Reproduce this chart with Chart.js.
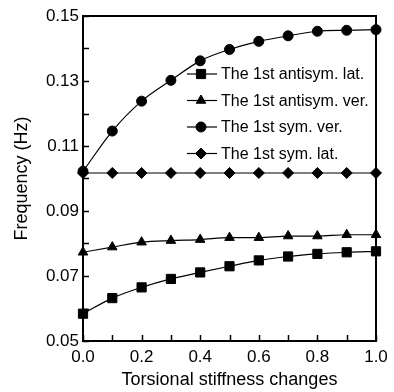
<!DOCTYPE html>
<html>
<head>
<meta charset="utf-8">
<style>
  html, body { margin: 0; padding: 0; background: #ffffff; }
  #wrap { width: 394px; height: 392px; }
</style>
<script src="https://cdn.jsdelivr.net/npm/chart.js@4/dist/chart.umd.min.js"></script>
</head>
<body>
<div id="wrap"><canvas id="c" width="394" height="392"></canvas></div>
<script>
// ---- data ----
const stiffness = [0.0, 0.1, 0.2, 0.3, 0.4, 0.5, 0.6, 0.7, 0.8, 0.9, 1.0];
const antisymLat = [0.0584, 0.0632, 0.0665, 0.0691, 0.0711, 0.0730, 0.0748, 0.0760, 0.0768, 0.0773, 0.0776];
const antisymVer = [0.0773, 0.0789, 0.0804, 0.0809, 0.0812, 0.0818, 0.0818, 0.0823, 0.0823, 0.0827, 0.0827];
const symVer = [0.1022, 0.1146, 0.1238, 0.1302, 0.1362, 0.1397, 0.1422, 0.1439, 0.1453, 0.1456, 0.1458];
const symLat = [0.1017, 0.1017, 0.1017, 0.1017, 0.1017, 0.1017, 0.1017, 0.1017, 0.1017, 0.1017, 0.1017];
const seriesNames = ['The 1st antisym. lat.', 'The 1st antisym. ver.', 'The 1st sym. ver.', 'The 1st sym. lat.'];
const xTickLabels = [0.0, 0.2, 0.4, 0.6, 0.8, 1.0];
const yTickLabels = [0.05, 0.07, 0.09, 0.11, 0.13, 0.15];
const xMinorTicks = [0.0, 0.1, 0.2, 0.3, 0.4, 0.5, 0.6, 0.7, 0.8, 0.9, 1.0];
const yMinorTicks = [0.05, 0.06, 0.07, 0.08, 0.09, 0.10, 0.11, 0.12, 0.13, 0.14, 0.15];
const xTitle = 'Torsional stiffness changes';
const yTitle = 'Frequency (Hz)';

const FONT = "'Liberation Sans', Arial, Helvetica, sans-serif";

function pts(arr) { return stiffness.map((x, i) => ({ x: x, y: arr[i] })); }

const styles = [
  { pointStyle: 'rect', pointRadius: 6.5 },
  { pointStyle: 'triangle', pointRadius: 5.5 },
  { pointStyle: 'circle', pointRadius: 5 },
  { pointStyle: 'rectRot', pointRadius: 5.5 }
];
const seriesData = [antisymLat, antisymVer, symVer, symLat];

const datasets = seriesData.map((arr, i) => ({
  label: seriesNames[i],
  data: pts(arr),
  borderColor: '#000',
  backgroundColor: '#000',
  pointBackgroundColor: '#000',
  pointBorderColor: '#000',
  pointBorderWidth: 1,
  borderWidth: 1.2,
  pointStyle: styles[i].pointStyle,
  pointRadius: styles[i].pointRadius,
  cubicInterpolationMode: 'monotone',
  clip: false
}));

const framePlugin = {
  id: 'frame',
  afterDatasetsDraw(chart) {
    const ctx = chart.ctx;
    const a = chart.chartArea;
    const xs = chart.scales.x, ys = chart.scales.y;
    ctx.save();
    ctx.strokeStyle = '#000';
    ctx.lineWidth = 2;
    ctx.strokeRect(a.left, a.top, a.right - a.left, a.bottom - a.top);
    ctx.lineWidth = 1.5;
    ctx.beginPath();
    xMinorTicks.forEach(v => {
      const px = Math.round(xs.getPixelForValue(v)) + 0.5;
      ctx.moveTo(px, a.bottom);
      ctx.lineTo(px, a.bottom - 6);
    });
    yMinorTicks.forEach(v => {
      const py = Math.round(ys.getPixelForValue(v)) + 0.5;
      ctx.moveTo(a.left, py);
      ctx.lineTo(a.left + 6, py);
    });
    ctx.stroke();

    // legend
    const lx0 = 187, lx1 = 217, lxm = 201, tx = 221;
    const rowY = [74, 100.5, 127, 153.5];
    ctx.font = '16px ' + FONT;
    ctx.textBaseline = 'middle';
    ctx.textAlign = 'left';
    chart.data.datasets.forEach((ds, i) => {
      const y = rowY[i];
      ctx.strokeStyle = '#000';
      ctx.lineWidth = 1.2;
      ctx.beginPath();
      ctx.moveTo(lx0, y);
      ctx.lineTo(lx1, y);
      ctx.stroke();
      ctx.fillStyle = '#000';
      ctx.lineWidth = 1;
      if (Chart.helpers && Chart.helpers.drawPoint) {
        Chart.helpers.drawPoint(ctx, { pointStyle: ds.pointStyle, radius: ds.pointRadius, rotation: 0, borderWidth: 1 }, lxm, y);
      }
      ctx.fillStyle = '#000';
      ctx.fillText(ds.label, tx, y + 1);
    });
    ctx.restore();
  }
};

new Chart(document.getElementById('c'), {
  type: 'line',
  data: { datasets: datasets },
  options: {
    responsive: false,
    animation: false,
    devicePixelRatio: 1,
    layout: { padding: { top: 16, right: 18, left: 0, bottom: 0 } },
    plugins: { legend: { display: false }, tooltip: { enabled: false } },
    scales: {
      x: {
        type: 'linear',
        min: 0, max: 1,
        border: { display: false },
        grid: { display: false, drawTicks: false },
        ticks: {
          padding: 6,
          color: '#000',
          font: { family: FONT, size: 17 },
          callback: v => Number(v).toFixed(1)
        },
        afterBuildTicks: s => { s.ticks = xTickLabels.map(v => ({ value: v })); },
        afterFit: s => { s.height = 51; },
        title: {
          display: true, text: xTitle, color: '#000',
          font: { family: FONT, size: 18 },
          padding: { top: 0, bottom: 1 }
        }
      },
      y: {
        type: 'linear',
        min: 0.05, max: 0.15,
        border: { display: false },
        grid: { display: false, drawTicks: false },
        ticks: {
          padding: 4,
          color: '#000',
          font: { family: FONT, size: 17 },
          callback: v => Number(v).toFixed(2)
        },
        afterBuildTicks: s => { s.ticks = yTickLabels.map(v => ({ value: v })); },
        afterFit: s => { s.width = 83; },
        title: {
          display: true, text: yTitle, color: '#000',
          font: { family: FONT, size: 18 },
          padding: { top: 11, bottom: 0 }
        }
      }
    }
  },
  plugins: [framePlugin]
});
</script>
</body>
</html>
